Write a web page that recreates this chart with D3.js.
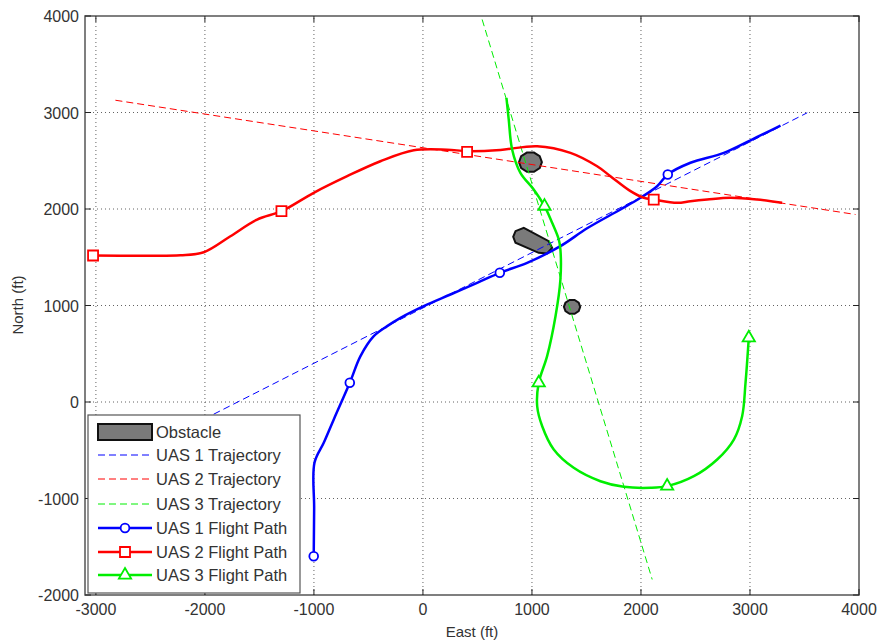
<!DOCTYPE html>
<html>
<head>
<meta charset="utf-8">
<script src="https://cdn.jsdelivr.net/npm/d3@7"></script>
<style>
  body { margin: 0; background: #fff; }
  svg { font-family: "Liberation Sans", Arial, sans-serif; }
  .tick-label { font-size: 16px; fill: #333; }
  .axis-title { font-size: 15px; fill: #333; }
  .legend-text { font-size: 16.5px; fill: #333; }
</style>
</head>
<body>
<div id="chart"></div>
<script>
// East / North in ft
const xTicks = [-3000, -2000, -1000, 0, 1000, 2000, 3000, 4000];
const yTicks = [-2000, -1000, 0, 1000, 2000, 3000, 4000];

const uas1Trajectory = [[-2100, -230], [3525, 2997]];
const uas2Trajectory = [[-2821, 3127], [3968, 1943]];
const uas3Trajectory = [[543, 3964], [2103, -1839]];

const uas1Path = [[-1002, -1598], [-998, -1100], [-995, -630], [-910, -423], [-818, -181], [-671, 199],
  [-573, 475], [-451, 682], [-328, 786], [-206, 872], [7, 993], [252, 1114], [497, 1235], [705, 1339],
  [956, 1442], [1261, 1615], [1506, 1800], [1812, 1995], [1995, 2116], [2148, 2236], [2246, 2358],
  [2454, 2479], [2760, 2582], [3005, 2712], [3280, 2865]];
const uas2Path = [[-3026, 1518], [-2600, 1516], [-2225, 1520], [-2011, 1552], [-1766, 1718], [-1521, 1891], [-1298, 1977],
  [-1002, 2168], [-695, 2340], [-390, 2495], [-84, 2609], [222, 2615], [405, 2600], [711, 2612],
  [1048, 2651], [1353, 2582], [1598, 2443], [1720, 2340], [1904, 2185], [2026, 2116], [2117, 2098],
  [2332, 2064], [2454, 2081], [2607, 2098], [2821, 2116], [3065, 2098], [3295, 2064]];
const uas3Path = [[766, 3152], [787, 2927], [818, 2617], [894, 2375], [1016, 2202], [1115, 2029],
  [1185, 1857], [1246, 1684], [1261, 1580], [1261, 1269], [1216, 889], [1139, 475], [1062, 199],
  [1048, -44], [1094, -251], [1200, -492], [1383, -682], [1628, -821], [1842, -879], [2087, -889],
  [2240, -872], [2485, -769], [2699, -596], [2852, -389], [2928, -147], [2959, 199], [2989, 665]];

const uas1Markers = [[-1002, -1598], [-671, 199], [705, 1339], [2246, 2358]];
const uas2Markers = [[-3026, 1518], [-1298, 1977], [405, 2593], [2117, 2098]];
const uas3Markers = [[1115, 2029], [1062, 199], [2240, -872], [2989, 665]];

const roundObstacles = [[986, 2485, 105], [1368, 986, 75]]; // east, north, radius
const longObstacle = [[849, 1770], [925, 1805], [1154, 1666], [1185, 1598], [1139, 1539],
  [1062, 1546], [849, 1650], [828, 1712]];

const legendLabels = ['Obstacle', 'UAS 1 Trajectory', 'UAS 2 Trajectory', 'UAS 3 Trajectory',
  'UAS 1 Flight Path', 'UAS 2 Flight Path', 'UAS 3 Flight Path'];

const blue = '#0000ff';
const red = '#ff0000';
const green = '#00ee00';

const width = 878;
const height = 643;

const svg = d3.select('#chart').append('svg')
  .attr('width', width)
  .attr('height', height);

const x = d3.scaleLinear().domain([-3100, 4000]).range([85, 859]);
const y = d3.scaleLinear().domain([-2000, 4000]).range([595, 16]);

// grid
svg.append('g')
  .selectAll('line.vgrid')
  .data(xTicks.filter(d => d > -3100 && d < 4000))
  .join('line')
  .attr('x1', d => x(d)).attr('x2', d => x(d))
  .attr('y1', y(-2000)).attr('y2', y(4000))
  .attr('stroke', '#222').attr('stroke-width', 1)
  .attr('stroke-dasharray', '1,3').attr('opacity', 0.7);

svg.append('g')
  .selectAll('line.hgrid')
  .data(yTicks.filter(d => d > -2000 && d < 4000))
  .join('line')
  .attr('x1', x(-3100)).attr('x2', x(4000))
  .attr('y1', d => y(d)).attr('y2', d => y(d))
  .attr('stroke', '#222').attr('stroke-width', 1)
  .attr('stroke-dasharray', '1,3').attr('opacity', 0.7);

// obstacles
const line = d3.line().x(d => x(d[0])).y(d => y(d[1]));

svg.append('g')
  .selectAll('path')
  .data(roundObstacles)
  .join('path')
  .attr('d', d => line(d3.range(10).map(i => {
    const a = i / 10 * 2 * Math.PI;
    return [d[0] + d[2] * Math.cos(a), d[1] + d[2] * Math.sin(a)];
  })) + 'Z')
  .attr('fill', '#7a7a7a')
  .attr('stroke', '#111')
  .attr('stroke-width', 2);

svg.append('path')
  .attr('d', line(longObstacle) + 'Z')
  .attr('fill', '#7a7a7a')
  .attr('stroke', '#111')
  .attr('stroke-width', 2);

// trajectories
[[uas1Trajectory, blue], [uas2Trajectory, red], [uas3Trajectory, green]].forEach(([d, c]) => {
  svg.append('path')
    .attr('d', line(d))
    .attr('fill', 'none')
    .attr('stroke', c)
    .attr('stroke-width', 1)
    .attr('stroke-dasharray', '7,4');
});

// flight paths
const curve = d3.line().x(d => x(d[0])).y(d => y(d[1])).curve(d3.curveCatmullRom);
[[uas1Path, blue], [uas2Path, red], [uas3Path, green]].forEach(([d, c]) => {
  svg.append('path')
    .attr('d', curve(d))
    .attr('fill', 'none')
    .attr('stroke', c)
    .attr('stroke-width', 2.5)
    .attr('stroke-linejoin', 'round');
});

// markers
const markerSym = {
  circle: d3.symbol().type(d3.symbolCircle).size(60),
  square: d3.symbol().type(d3.symbolSquare).size(100),
  triangle: d3.symbol().type(d3.symbolTriangle).size(65),
};
[[uas1Markers, blue, 'circle'], [uas2Markers, red, 'square'], [uas3Markers, green, 'triangle']]
  .forEach(([pts, c, s]) => {
    svg.append('g')
      .selectAll('path')
      .data(pts)
      .join('path')
      .attr('transform', d => `translate(${x(d[0])},${y(d[1])})`)
      .attr('d', markerSym[s])
      .attr('fill', '#fff')
      .attr('stroke', c)
      .attr('stroke-width', 1.8);
  });

// axes box and inner ticks
svg.append('rect')
  .attr('x', x(-3100)).attr('y', y(4000))
  .attr('width', x(4000) - x(-3100)).attr('height', y(-2000) - y(4000))
  .attr('fill', 'none').attr('stroke', '#555').attr('stroke-width', 1.5);

const tickLen = 6;
xTicks.forEach(t => {
  svg.append('line').attr('x1', x(t)).attr('x2', x(t))
    .attr('y1', y(-2000)).attr('y2', y(-2000) - tickLen).attr('stroke', '#222');
  svg.append('line').attr('x1', x(t)).attr('x2', x(t))
    .attr('y1', y(4000)).attr('y2', y(4000) + tickLen).attr('stroke', '#222');
  svg.append('text').attr('class', 'tick-label')
    .attr('x', x(t)).attr('y', 615).attr('text-anchor', 'middle').text(t);
});
yTicks.forEach(t => {
  svg.append('line').attr('x1', x(-3100)).attr('x2', x(-3100) + tickLen)
    .attr('y1', y(t)).attr('y2', y(t)).attr('stroke', '#222');
  svg.append('line').attr('x1', x(4000)).attr('x2', x(4000) - tickLen)
    .attr('y1', y(t)).attr('y2', y(t)).attr('stroke', '#222');
  svg.append('text').attr('class', 'tick-label')
    .attr('x', 79).attr('y', y(t) + 6).attr('text-anchor', 'end').text(t);
});

svg.append('text').attr('class', 'axis-title')
  .attr('x', 472).attr('y', 637).attr('text-anchor', 'middle').text('East (ft)');
svg.append('text').attr('class', 'axis-title')
  .attr('transform', 'translate(23,305) rotate(-90)')
  .attr('text-anchor', 'middle').text('North (ft)');

// legend
const legend = svg.append('g').attr('transform', 'translate(88,415)');
legend.append('rect')
  .attr('width', 212).attr('height', 178)
  .attr('fill', '#fff').attr('stroke', '#555').attr('stroke-width', 1.2);

const rowY = [17, 40, 64, 89, 113, 137, 160];
legend.append('rect')
  .attr('x', 10).attr('y', rowY[0] - 8).attr('width', 54).attr('height', 16)
  .attr('fill', '#7a7a7a').attr('stroke', '#111').attr('stroke-width', 2);

[blue, red, green].forEach((c, i) => {
  legend.append('line')
    .attr('x1', 10).attr('x2', 64).attr('y1', rowY[i + 1]).attr('y2', rowY[i + 1])
    .attr('stroke', c).attr('stroke-width', 1).attr('stroke-dasharray', '7,4');
});
[[blue, 'circle'], [red, 'square'], [green, 'triangle']].forEach(([c, s], i) => {
  const ry = rowY[i + 4];
  legend.append('line')
    .attr('x1', 10).attr('x2', 64).attr('y1', ry).attr('y2', ry)
    .attr('stroke', c).attr('stroke-width', 2.5);
  legend.append('path')
    .attr('transform', `translate(37,${ry})`)
    .attr('d', markerSym[s])
    .attr('fill', '#fff').attr('stroke', c).attr('stroke-width', 1.8);
});

legend.selectAll('text')
  .data(legendLabels)
  .join('text')
  .attr('class', 'legend-text')
  .attr('x', 68)
  .attr('y', (d, i) => rowY[i] + 6)
  .text(d => d);
</script>
</body>
</html>
